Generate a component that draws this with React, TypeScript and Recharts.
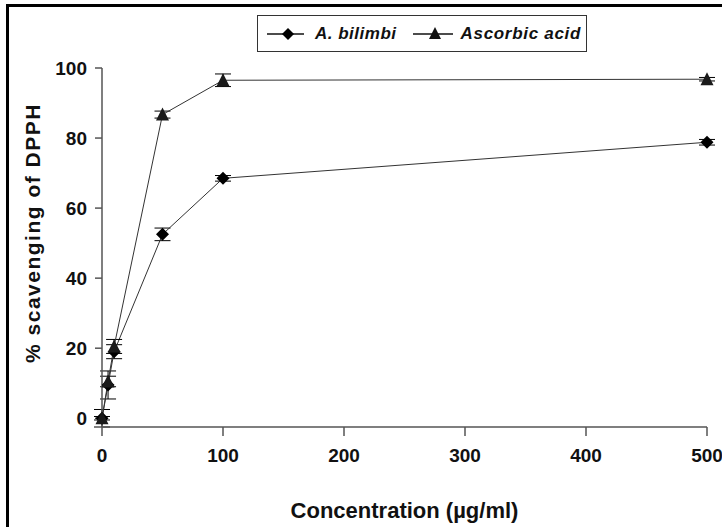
import React from "react";
import {
  LineChart,
  Line,
  XAxis,
  YAxis,
  ErrorBar,
  Label,
} from "recharts";

const concentrations = [0, 5, 10, 50, 100, 500];
const bilimbiValues = [0, 9.5, 19, 52.5, 68.5, 78.8];
const bilimbiErrors = [2.5, 4, 2, 1.8, 0.8, 0.8];
const ascorbicValues = [0, 10.5, 20.5, 86.7, 96.5, 96.8];
const ascorbicErrors = [0.5, 1.5, 2, 1, 1.8, 0.5];
const xTicks = [0, 100, 200, 300, 400, 500];
const yTicks = [0, 20, 40, 60, 80, 100];

const bilimbiData = concentrations.map((c, i) => ({
  x: c,
  y: bilimbiValues[i],
  err: bilimbiErrors[i],
}));
const ascorbicData = concentrations.map((c, i) => ({
  x: c,
  y: ascorbicValues[i],
  err: ascorbicErrors[i],
}));

const FONT = "'Liberation Sans', Arial, sans-serif";

function Diamond(props: any) {
  const { cx, cy } = props;
  if (cx == null || cy == null) return null;
  const r = 6.5;
  return (
    <path
      d={`M${cx},${cy - r} L${cx + r},${cy} L${cx},${cy + r} L${cx - r},${cy} Z`}
      fill="#000"
    />
  );
}

function Triangle(props: any) {
  const { cx, cy } = props;
  if (cx == null || cy == null) return null;
  const h = 12;
  const w = 6.5;
  return (
    <path
      d={`M${cx},${cy - h / 2 - 1} L${cx + w},${cy + h / 2} L${cx - w},${cy + h / 2} Z`}
      fill="#1a1a1a"
    />
  );
}

const tickStyle = {
  fontFamily: FONT,
  fontWeight: 700,
  fontSize: 19,
  fill: "#111",
};

function App() {
  return (
    <div
      style={{
        position: "absolute",
        left: 0,
        top: 0,
        width: 722,
        height: 527,
        overflow: "hidden",
        background: "#fff",
      }}
    >
      <div
        style={{
          position: "absolute",
          left: 6,
          top: 4,
          width: 740,
          height: 560,
          border: "3px solid #000",
        }}
      />
      <div style={{ position: "absolute", left: 0, top: 0 }}>
        <LineChart
          width={722}
          height={527}
          margin={{ top: 68, right: 15, bottom: 0, left: 0 }}
        >
          <XAxis
            dataKey="x"
            type="number"
            domain={[0, 500]}
            ticks={xTicks}
            allowDuplicatedCategory={false}
            height={100}
            tickSize={9}
            tickMargin={13}
            stroke="#555"
            strokeWidth={1.5}
            tick={tickStyle}
          >
            <Label
              content={({ viewBox }: any) => (
                <text
                  x={viewBox.x + viewBox.width / 2}
                  y={viewBox.y + 91}
                  textAnchor="middle"
                  fontFamily={FONT}
                  fontWeight={700}
                  fontSize={22}
                  fill="#111"
                >
                  Concentration (µg/ml)
                </text>
              )}
            />
          </XAxis>
          <YAxis
            dataKey="y"
            type="number"
            domain={[0, 100]}
            ticks={yTicks}
            width={102}
            tickSize={7}
            tickMargin={8}
            stroke="#555"
            strokeWidth={1.5}
            tick={tickStyle}
          >
            <Label
              content={() => (
                <text
                  x={40}
                  y={233}
                  transform="rotate(-90 40 233)"
                  textAnchor="middle"
                  fontFamily={FONT}
                  fontWeight={700}
                  fontSize={21}
                  letterSpacing={1.5}
                  fill="#111"
                >
                  % scavenging of DPPH
                </text>
              )}
            />
          </YAxis>
          <Line
            data={bilimbiData}
            dataKey="y"
            name="A. bilimbi"
            type="linear"
            stroke="#333"
            strokeWidth={1}
            dot={<Diamond />}
            activeDot={false}
            isAnimationActive={false}
          >
            <ErrorBar dataKey="err" direction="y" width={8} stroke="#000" strokeWidth={1} />
          </Line>
          <Line
            data={ascorbicData}
            dataKey="y"
            name="Ascorbic acid"
            type="linear"
            stroke="#333"
            strokeWidth={1}
            dot={<Triangle />}
            activeDot={false}
            isAnimationActive={false}
          >
            <ErrorBar dataKey="err" direction="y" width={8} stroke="#000" strokeWidth={1} />
          </Line>
        </LineChart>
      </div>
      <div
        style={{
          position: "absolute",
          left: 257,
          top: 15,
          width: 328,
          height: 35,
          border: "1px solid #333",
          background: "#fff",
          display: "flex",
          alignItems: "center",
          whiteSpace: "nowrap",
          fontFamily: FONT,
          fontWeight: 700,
          fontStyle: "italic",
          fontSize: 17,
          color: "#111",
        }}
      >
        <svg width={48} height={20} style={{ marginLeft: 9, flexShrink: 0 }}>
          <line x1={0} y1={10} x2={37} y2={10} stroke="#111" strokeWidth={1.5} />
          <path d="M21,4 L27,10 L21,16 L15,10 Z" fill="#000" />
        </svg>
        <span style={{ letterSpacing: 0.5 }}>A. bilimbi</span>
        <svg width={48} height={20} style={{ marginLeft: 16, flexShrink: 0 }}>
          <line x1={0} y1={10} x2={40} y2={10} stroke="#111" strokeWidth={1.5} />
          <path d="M22,3 L28,15 L16,15 Z" fill="#111" />
        </svg>
        <span style={{ letterSpacing: 0.7 }}>Ascorbic acid</span>
      </div>
    </div>
  );
}

export default App;
